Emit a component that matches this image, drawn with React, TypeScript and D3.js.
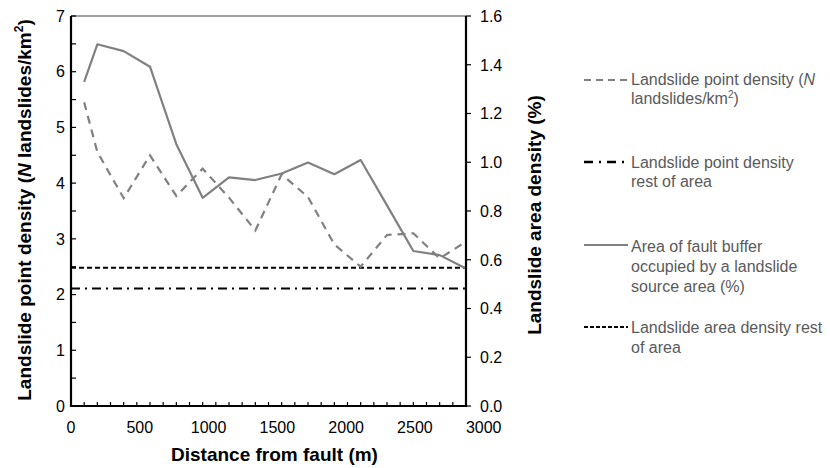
import React, { useEffect, useRef } from 'react'
import * as d3 from 'd3'

// values
const distance = [100, 200, 400, 600, 800, 1000, 1200, 1400, 1600, 1800, 2000, 2200, 2400, 2600, 2800, 3000]
const pointDensity = [5.45, 4.56, 3.73, 4.5, 3.77, 4.26, 3.74, 3.15, 4.16, 3.75, 2.9, 2.5, 3.07, 3.1, 2.65, 2.95]
const areaDensity = [1.33, 1.484, 1.456, 1.392, 1.074, 0.854, 0.938, 0.927, 0.954, 0.999, 0.951, 1.009, 0.823, 0.636, 0.619, 0.564]
const pointDensityRest = 2.11
const areaDensityRest = 0.567

const xTicks = [0, 500, 1000, 1500, 2000, 2500, 3000]
const leftTicks = [0, 1, 2, 3, 4, 5, 6, 7]
const rightTicks = [0, 0.2, 0.4, 0.6, 0.8, 1.0, 1.2, 1.4, 1.6]

const legendLines = [
  ['Landslide point density (N', 'landslides/km2)'],
  ['Landslide point density', 'rest of area'],
  ['Area of fault buffer', 'occupied by a landslide', 'source area (%)'],
  ['Landslide area density rest', 'of area'],
]

const W = 830
const H = 468
const margin = { top: 16, left: 71, right: 364, bottom: 62 }
const grey = '#808080'
const font = '"Liberation Sans", Arial, sans-serif'

const App = () => {
  const ref = useRef<SVGSVGElement>(null)

  useEffect(() => {
    const svg = d3.select(ref.current)
    svg.selectAll('*').remove()

    const x0 = margin.left
    const x1 = W - margin.right
    const y0 = H - margin.bottom
    const y1 = margin.top

    const x = d3.scaleLinear().domain([0, 3000]).range([x0, x1])
    // the printed tick labels sit a little stretched compared to the tick marks
    const xLabel = d3.scaleLinear().domain([0, 3000]).range([x0, x1 + 17.7])
    const yL = d3.scaleLinear().domain([0, 7]).range([y0, y1])
    const yR = d3.scaleLinear().domain([0, 1.6]).range([y0, y1])

    const g = svg.append('g').attr('font-family', font)

    // top border
    g.append('line').attr('x1', x0).attr('x2', x1).attr('y1', y1).attr('y2', y1)
      .attr('stroke', grey).attr('stroke-width', 1.5)

    // reference lines
    g.append('line').attr('x1', x0).attr('x2', x1)
      .attr('y1', yR(areaDensityRest)).attr('y2', yR(areaDensityRest))
      .attr('stroke', '#000').attr('stroke-width', 2).attr('stroke-dasharray', '5,3')
    g.append('line').attr('x1', x0).attr('x2', x1)
      .attr('y1', yL(pointDensityRest)).attr('y2', yL(pointDensityRest))
      .attr('stroke', '#000').attr('stroke-width', 2).attr('stroke-dasharray', '9,5,2,5')

    // series
    const lineL = d3.line<number>().x((d, i) => x(distance[i])).y((d) => yL(d))
    const lineR = d3.line<number>().x((d, i) => x(distance[i])).y((d) => yR(d))

    g.append('path').datum(pointDensity).attr('d', lineL)
      .attr('fill', 'none').attr('stroke', grey).attr('stroke-width', 2.2)
      .attr('stroke-dasharray', '8,6')
    g.append('path').datum(areaDensity).attr('d', lineR)
      .attr('fill', 'none').attr('stroke', grey).attr('stroke-width', 2.2)
      .attr('stroke-linejoin', 'round')

    // bottom axis: minor ticks every 100 m, inside
    g.selectAll('.xt').data(d3.range(0, 3001, 100)).enter().append('line')
      .attr('x1', (d) => x(d)).attr('x2', (d) => x(d))
      .attr('y1', y0).attr('y2', y0 - 4)
      .attr('stroke', '#000').attr('stroke-width', 1.2)
    g.selectAll('.xl').data(xTicks).enter().append('text')
      .attr('x', (d) => xLabel(d)).attr('y', 433)
      .attr('text-anchor', 'middle').attr('font-size', 16).text((d) => d)

    // left axis: ticks every 0.5, inside
    g.selectAll('.yt').data(d3.range(0, 7.01, 0.5)).enter().append('line')
      .attr('x1', x0).attr('x2', x0 + 5)
      .attr('y1', (d) => yL(d)).attr('y2', (d) => yL(d))
      .attr('stroke', '#000').attr('stroke-width', 1.2)
    g.selectAll('.yl').data(leftTicks).enter().append('text')
      .attr('x', 65).attr('y', (d) => yL(d)).attr('dy', '0.36em')
      .attr('text-anchor', 'end').attr('font-size', 16).text((d) => d)

    // right axis: ticks outside
    g.selectAll('.rt').data(rightTicks).enter().append('line')
      .attr('x1', x1).attr('x2', x1 + 5)
      .attr('y1', (d) => yR(d)).attr('y2', (d) => yR(d))
      .attr('stroke', '#000').attr('stroke-width', 1.2)
    g.selectAll('.rl').data(rightTicks).enter().append('text')
      .attr('x', 480).attr('y', (d) => yR(d)).attr('dy', '0.36em')
      .attr('font-size', 16).text((d) => d3.format('.1f')(d))

    // axis lines
    g.append('path')
      .attr('d', `M${x0},${y1}V${y0}H${x1}V${y1}`)
      .attr('fill', 'none').attr('stroke', '#000').attr('stroke-width', 2.2)

    // axis titles
    g.append('text').attr('x', 274.5).attr('y', 461).attr('text-anchor', 'middle')
      .attr('font-size', 19).attr('font-weight', 'bold').text('Distance from fault (m)')

    const lt = g.append('text').attr('transform', 'translate(31,210) rotate(-90)')
      .attr('text-anchor', 'middle').attr('font-size', 19).attr('font-weight', 'bold')
    lt.append('tspan').text('Landslide point density (')
    lt.append('tspan').attr('font-style', 'italic').text('N')
    lt.append('tspan').text(' landslides/km')
    lt.append('tspan').attr('font-size', 12).attr('dy', -8).text('2')
    lt.append('tspan').attr('dy', 8).text(')')

    g.append('text').attr('transform', 'translate(541,215) rotate(-90)')
      .attr('text-anchor', 'middle').attr('font-size', 19).attr('font-weight', 'bold')
      .text('Landslide area density (%)')

    // legend
    const lx0 = 584
    const lx1 = 628
    const tx = 631
    const samples = [
      { y: 80, stroke: grey, dash: '7,5', w: 2 },
      { y: 162, stroke: '#000', dash: '9,6,2,6', w: 2.4 },
      { y: 245, stroke: grey, dash: null, w: 2 },
      { y: 327, stroke: '#000', dash: '4,2', w: 2 },
    ]
    const baselines = [[85, 104], [167.7, 186.7], [251.7, 271.7, 291.7], [333.3, 352.5]]
    const leg = g.append('g').attr('font-size', 16).attr('fill', '#5a5a5a')
    samples.forEach((s, i) => {
      leg.append('line').attr('x1', lx0).attr('x2', lx1).attr('y1', s.y).attr('y2', s.y)
        .attr('stroke', s.stroke).attr('stroke-width', s.w)
        .attr('stroke-dasharray', s.dash)
      legendLines[i].forEach((t, j) => {
        const txt = leg.append('text').attr('x', tx).attr('y', baselines[i][j])
        if (i === 0 && j === 0) {
          txt.append('tspan').text('Landslide point density (')
          txt.append('tspan').attr('font-style', 'italic').text('N')
        } else if (i === 0 && j === 1) {
          txt.append('tspan').text('landslides/km')
          txt.append('tspan').attr('font-size', 10).attr('dy', -6).text('2')
          txt.append('tspan').attr('dy', 6).text(')')
        } else {
          txt.text(t)
        }
      })
    })
  }, [])

  return (
    <svg ref={ref} width={W} height={H} style={{ position: 'absolute', left: 0, top: 0, background: '#fff' }} />
  )
}

export default App
